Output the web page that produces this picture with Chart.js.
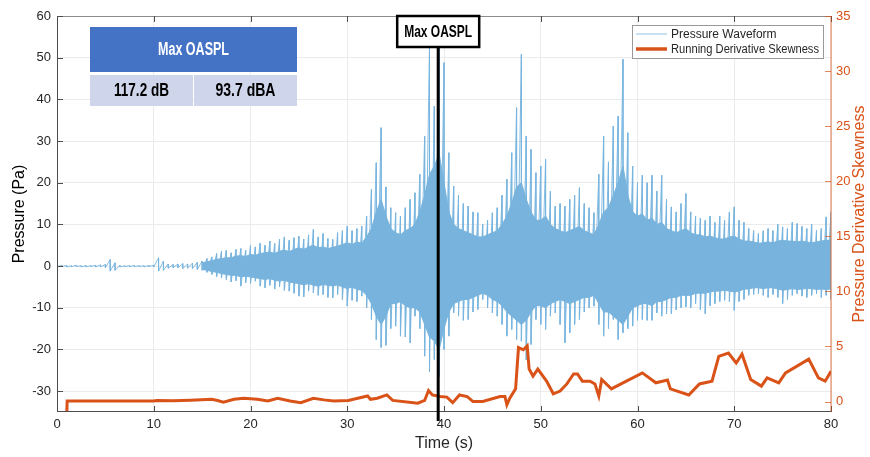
<!DOCTYPE html>
<html>
<head>
<meta charset="utf-8">
<script src="https://cdn.jsdelivr.net/npm/chart.js@4.4.1/dist/chart.umd.min.js"></script>
<style>
  body { margin: 0; background: #fff; }
</style>
</head>
<body>
<canvas id="c" width="870" height="457"></canvas>
<script>
// tick labels
const timeTicks = [0, 10, 20, 30, 40, 50, 60, 70, 80];
const pressureTicks = [-30, -20, -10, 0, 10, 20, 30, 40, 50, 60];
const skewTicks = [0, 5, 10, 15, 20, 25, 30, 35];

// pressure waveform, peak extents read every 0.5 s from 0 s to 80 s
const sampleStart = 0;
const sampleStep = 0.5;
const pHigh = [
  0.15, 0.2, 0.15, 0.1, 0.2, 0.1, 0.15, 0.1, 0.2, 0.3,
  0.4, 1.6, 0.8, 0.2, 0.1, 0.1, 0.15, 0.1, 0.1, 0.15,
  0.2, 2.0, 1.2, 0.5, 0.4, 0.5, 0.6, 0.5, 0.7, 0.9,
  1.2, 1.8, 2.2, 3.0, 3.6, 3.8, 3.2, 4.0, 4.2, 3.8,
  5.0, 4.6, 5.5, 5.0, 6.0, 5.4, 6.5, 7.0, 6.2, 6.8,
  7.2, 6.5, 7.5, 8.8, 7.0, 7.8, 6.6, 6.4, 8.0, 8.5,
  9.6, 8.5, 9.0, 9.6, 12, 18.4, 24.8, 33.2, 19, 14,
  12.8, 12, 14, 16, 17.6, 22, 31.2, 52.8, 38.4, 54,
  48.8, 27.2, 19.2, 17, 15, 14.4, 13, 12.8, 10, 11,
  12.8, 14, 17, 20.8, 27.2, 38, 50.8, 31.2, 28, 22.4,
  24, 25.6, 18, 14.4, 15, 14.4, 16, 17, 18.8, 15,
  14, 12.8, 22, 31.2, 25, 33.6, 36, 49.6, 32, 24,
  20, 21.8, 20, 21.8, 18, 21.8, 16, 14.2, 13, 15,
  17.4, 13, 12, 11.5, 11, 12, 10.5, 12, 11, 13,
  14.2, 11, 10.5, 9, 8.5, 7.8, 8.5, 9, 8.5, 10,
  9.4, 9, 10.5, 10.2, 9.5, 9, 10, 8.6, 9, 11.8,
  13
];
const pLow = [
  -0.15, -0.1, -0.2, -0.15, -0.1, -0.2, -0.15, -0.1, -0.2, -0.2,
  -0.4, -1.2, -1.0, -0.2, -0.1, -0.15, -0.1, -0.1, -0.15, -0.1,
  -0.2, -1.2, -1.0, -0.5, -0.4, -0.4, -0.6, -0.5, -0.6, -0.8,
  -1.0, -1.5, -2.0, -2.5, -2.8, -3.2, -3.8, -3.5, -4.8, -4.0,
  -4.2, -3.6, -4.8, -5.2, -4.6, -5.5, -5.0, -5.8, -6.0, -6.5,
  -7.2, -7.4, -6.0, -6.4, -7.0, -6.8, -7.5, -7.6, -6.8, -8.0,
  -9.6, -8.2, -8.5, -7.2, -10, -12.8, -17.6, -19.5, -19, -15,
  -14.4, -16.8, -17, -18.4, -12, -15, -21.6, -25.4, -22.4, -26.6,
  -20, -16.8, -11.2, -12, -13, -12.8, -11, -10.4, -8, -10,
  -11.2, -12, -14, -16.8, -15.2, -17.6, -18, -22.5, -18.8, -12.8,
  -14, -15.2, -12, -11.2, -14, -18.4, -16, -14, -12.8, -11,
  -10, -9.6, -14, -16.8, -15, -12.8, -17.6, -16, -15, -14.4,
  -13, -12.8, -13, -13, -11.2, -12, -11.4, -11.4, -10.5, -10,
  -9.8, -10, -9, -10.5, -11.4, -9.5, -9, -8.5, -8.2, -8.5,
  -10.6, -8.5, -8, -7, -6.8, -6.6, -7, -7.5, -6.8, -7.5,
  -9, -8, -7, -6.6, -7.2, -7.5, -7, -6.6, -7.5, -7,
  -8
];

// dense core of the waveform, read every 0.5 s from 15 s to 80 s
const coreStart = 15;
const coreStep = 0.5;
const coreHigh = [
  0.8, 1.0, 1.3, 1.6, 1.8, 2.0, 2.0, 2.4, 2.5, 2.3,
  2.8, 2.6, 3.0, 3.2, 3.4, 3.0, 3.6, 3.8, 3.5, 4.0,
  4.4, 4.0, 4.6, 5.0, 4.4, 4.6, 4.2, 4.5, 4.8, 5.2,
  5.6, 5.2, 5.8, 5.5, 7, 9, 13, 16, 12, 9,
  8, 7.5, 8.5, 9, 10, 13, 17, 22, 24, 27,
  20, 13, 10, 9, 8.5, 8, 7.5, 7, 7, 7.5,
  8, 8.5, 10, 12, 15, 19, 20, 16, 13, 11,
  11, 12, 10, 9, 8.5, 8, 8.5, 9, 9.5, 8.5,
  8, 7.5, 10, 13, 14, 17, 20, 24, 17, 13,
  12, 12.5, 11, 11.5, 10, 10.5, 9, 8.5, 8, 8.5,
  9, 8, 7.5, 7.5, 7, 7.2, 6.8, 6.5, 6.5, 7,
  7.2, 6.5, 6, 6, 5.8, 5.5, 5.6, 5.8, 5.6, 6,
  6.2, 6, 6, 5.8, 6, 5.8, 5.6, 5.8, 6, 6.2,
  6.2
];
const coreLow = [
  -0.8, -1.0, -1.3, -1.5, -1.8, -2.0, -2.2, -2.2, -2.6, -2.4,
  -2.6, -2.8, -3.0, -3.2, -3.0, -3.4, -3.6, -3.4, -3.8, -4.0,
  -4.2, -4.5, -4.2, -4.6, -4.8, -4.4, -4.6, -4.8, -4.5, -5.0,
  -5.4, -5.0, -5.6, -5.8, -7, -9, -12, -14, -12, -9,
  -9, -8.5, -9.5, -10, -10, -11, -14, -17, -18, -20,
  -15, -11, -9, -8.5, -8, -8, -7.5, -7, -6.5, -7,
  -8, -8.5, -9.5, -11, -12, -13, -14, -13, -11, -9.5,
  -9.5, -10, -9, -8.5, -8, -8.5, -9, -8.5, -8, -7.5,
  -7.5, -7, -9, -11, -11, -12, -13, -14, -12, -10,
  -9.5, -9, -9, -9.5, -8.5, -8.5, -8, -7.5, -7.5, -7,
  -7, -7, -6.5, -6.5, -6.5, -6.2, -6, -6, -5.8, -6,
  -6.2, -6, -5.5, -5.5, -5.2, -5.2, -5.4, -5.2, -5.2, -5.5,
  -5.8, -5.6, -5.4, -5.6, -5.5, -5.4, -5.4, -5.6, -5.5, -5.6,
  -5.5
];

// running derivative skewness (right axis)
const skTime = [1.0, 1.05, 5, 10, 10.3, 12, 13.8, 16, 16.6, 17.2, 18.3, 19.3, 20.7, 21.8, 22.8, 24.1, 25.2, 26.5, 27.6, 28.6,
  30.1, 32.1, 32.4, 33.1, 34.1, 34.7, 37.3, 38.0, 38.4, 38.8, 39.6, 40.3, 40.9, 41.6, 42.4, 43.0, 44.0, 45.8, 46.3, 46.5,
  46.8, 47.4, 47.7, 48.2, 48.6, 48.8, 49.2, 49.7, 50.6, 51.3, 52.0, 52.7, 53.4, 53.8, 54.3, 55.1, 55.6, 56.0, 56.3, 57.3,
  58.5, 60.5, 61.9, 63.1, 63.4, 65.3, 66.4, 67.7, 68.4, 69.4, 70.2, 70.8, 71.7, 72.8, 73.4, 74.6, 75.3, 77.7, 78.7, 79.4, 80];
const skValue = [-1.5, 0.05, 0.05, 0.05, 0.1, 0.08, 0.12, 0.2, 0.1, -0.05, 0.2, 0.3, 0.2, 0.05, 0.3, 0.05, -0.1, 0.3, 0.15, 0.05,
  0.1, 0.5, 0.2, 0.3, 0.6, 0.1, -0.15, 0.1, 1.0, 0.6, 0.45, 0.4, -0.1, 0.6, 0.45, 0.0, 0.0, 0.45, 0.45, -0.3,
  0.3, 1.15, 4.9, 4.7, 5.05, 2.95, 2.3, 2.95, 1.85, 0.7, 0.95, 1.6, 2.5, 2.5, 1.85, 1.85, 1.6, 0.5, 2.0, 1.15,
  1.7, 2.6, 1.7, 1.95, 1.15, 0.6, 1.6, 1.85, 4.1, 4.4, 3.5, 4.3, 2.0, 1.4, 2.15, 1.7, 2.6, 3.85, 2.15, 1.85, 2.75];

// annotations
const maxOasplTime = 39.4;
const markerLabel = 'Max OASPL';
const tableTitle = 'Max OASPL';
const tableValues = ['117.2 dB', '93.7 dBA'];
const rightTitle = 'Pressure Derivative Skewness';

const FONT = '"Liberation Sans", Arial, Helvetica, sans-serif';
const NARROW = '"Liberation Sans Narrow", "Liberation Sans", Arial, sans-serif';
const ORANGE = '#d95319';
const CORE = '#77b3dc';

// waveform: each sample drawn as its high then low excursion
const waveData = [];
pHigh.forEach((h, i) => {
  const t = sampleStart + i * sampleStep;
  waveData.push({ x: t, y: h });
  waveData.push({ x: t, y: pLow[i] });
});
const coreTop = coreHigh.map((v, i) => ({ x: coreStart + i * coreStep, y: v }));
const coreBottom = coreLow.map((v, i) => ({ x: coreStart + i * coreStep, y: v }));
const skewData = skTime.map((t, i) => ({ x: t, y: skValue[i] }));

function fitText(ctx, text, cx, cy, maxW) {
  const w = ctx.measureText(text).width;
  const s = Math.min(1, maxW / w);
  ctx.save();
  ctx.translate(cx, cy);
  ctx.scale(s, 1);
  ctx.fillText(text, 0, 0);
  ctx.restore();
}

const overlay = {
  id: 'overlay',
  afterDatasetsDraw(chart) {
    const { ctx, chartArea: a, scales } = chart;
    ctx.save();
    ctx.lineWidth = 1;
    ctx.strokeStyle = '#8c8c8c';
    ctx.beginPath();
    ctx.moveTo(a.left, a.top + 0.5); ctx.lineTo(a.right, a.top + 0.5);
    ctx.stroke();
    ctx.strokeStyle = '#4d4d4d';
    ctx.beginPath();
    ctx.moveTo(a.left + 0.5, a.top); ctx.lineTo(a.left + 0.5, a.bottom);
    ctx.moveTo(a.left, a.bottom - 0.5); ctx.lineTo(a.right, a.bottom - 0.5);
    timeTicks.forEach(t => {
      const px = Math.round(scales.x.getPixelForValue(t)) + 0.5;
      ctx.moveTo(px, a.bottom); ctx.lineTo(px, a.bottom - 6);
      ctx.moveTo(px, a.top); ctx.lineTo(px, a.top + 6);
    });
    pressureTicks.forEach(v => {
      const py = Math.round(scales.y.getPixelForValue(v)) + 0.5;
      ctx.moveTo(a.left, py); ctx.lineTo(a.left + 6, py);
    });
    ctx.stroke();
    // right axis
    ctx.strokeStyle = 'rgba(217,83,25,0.4)';
    ctx.lineWidth = 2;
    ctx.beginPath();
    ctx.moveTo(a.right, a.top); ctx.lineTo(a.right, a.bottom);
    ctx.stroke();
    ctx.strokeStyle = 'rgba(217,83,25,0.7)';
    ctx.lineWidth = 1;
    ctx.beginPath();
    skewTicks.forEach(v => {
      const py = Math.round(scales.y2.getPixelForValue(v)) + 0.5;
      ctx.moveTo(a.right, py); ctx.lineTo(a.right - 6, py);
    });
    ctx.stroke();
    ctx.restore();
  },
  afterDraw(chart) {
    const { ctx, chartArea: a, scales } = chart;
    ctx.save();
    ctx.textAlign = 'center';
    ctx.textBaseline = 'middle';

    // right axis title, reading upwards
    ctx.save();
    ctx.translate(860, (a.top + a.bottom) / 2);
    ctx.rotate(-Math.PI / 2);
    ctx.fillStyle = ORANGE;
    ctx.font = '16px ' + FONT;
    ctx.fillText(rightTitle, 0, 0);
    ctx.restore();

    // max OASPL marker
    const mx = scales.x.getPixelForValue(maxOasplTime);
    ctx.strokeStyle = '#000';
    ctx.lineWidth = 3;
    ctx.beginPath();
    ctx.moveTo(mx, 47); ctx.lineTo(mx, 421);
    ctx.stroke();
    ctx.fillStyle = '#fff';
    ctx.fillRect(mx - 41, 16, 82, 31);
    ctx.lineWidth = 2.5;
    ctx.strokeRect(mx - 41, 16, 82, 31);
    ctx.fillStyle = '#000';
    ctx.font = 'bold 17px ' + NARROW;
    fitText(ctx, markerLabel, mx, 32, 68);

    // legend
    const lx = 632.5, ly = 25.5, lw = 191, lh = 33;
    ctx.fillStyle = '#fff';
    ctx.fillRect(lx, ly, lw, lh);
    ctx.strokeStyle = '#999';
    ctx.lineWidth = 1;
    ctx.strokeRect(lx, ly, lw, lh);
    ctx.font = '12px ' + FONT;
    let row = 0;
    chart.data.datasets.forEach(ds => {
      if (!ds.legendColor) return;
      const yy = 34 + row * 15;
      ctx.strokeStyle = ds.legendColor;
      ctx.lineWidth = ds.legendWidth;
      ctx.beginPath();
      ctx.moveTo(636, yy); ctx.lineTo(667, yy);
      ctx.stroke();
      ctx.fillStyle = '#262626';
      ctx.textAlign = 'left';
      ctx.save();
      ctx.translate(671, yy + 0.5);
      const w = ctx.measureText(ds.label).width;
      ctx.scale(Math.min(1, 148 / w), 1);
      ctx.fillText(ds.label, 0, 0);
      ctx.restore();
      row++;
    });

    // OASPL table
    ctx.textAlign = 'center';
    ctx.fillStyle = '#4472c4';
    ctx.fillRect(90, 27, 207, 45);
    ctx.fillStyle = '#cfd5ea';
    ctx.fillRect(90, 75, 103, 31);
    ctx.fillRect(194, 75, 103, 31);
    ctx.fillStyle = '#fff';
    ctx.font = 'bold 18px ' + NARROW;
    fitText(ctx, tableTitle, 193.5, 50, 71);
    ctx.fillStyle = '#000';
    ctx.font = 'bold 19px ' + NARROW;
    fitText(ctx, tableValues[0], 141.5, 91, 55);
    fitText(ctx, tableValues[1], 245.5, 91, 60);
    ctx.restore();
  }
};

const setTicks = list => scale => { scale.ticks = list.map(v => ({ value: v })); };

new Chart(document.getElementById('c'), {
  type: 'line',
  data: {
    datasets: [
      {
        label: 'Pressure Waveform',
        data: waveData,
        yAxisID: 'y',
        borderColor: 'rgba(120,181,223,0.9)',
        legendColor: '#8fc3e8',
        legendWidth: 1,
        borderWidth: 1,
        pointRadius: 0,
        tension: 0,
        order: 3
      },
      {
        label: 'core top',
        data: coreTop,
        yAxisID: 'y',
        borderColor: CORE,
        borderWidth: 1,
        backgroundColor: CORE,
        fill: '+1',
        pointRadius: 0,
        tension: 0,
        order: 2
      },
      {
        label: 'core bottom',
        data: coreBottom,
        yAxisID: 'y',
        borderColor: CORE,
        borderWidth: 1,
        pointRadius: 0,
        tension: 0,
        order: 1
      },
      {
        label: 'Running Derivative Skewness',
        data: skewData,
        yAxisID: 'y2',
        borderColor: ORANGE,
        legendColor: ORANGE,
        legendWidth: 3.5,
        borderWidth: 3,
        pointRadius: 0,
        tension: 0,
        order: 0
      }
    ]
  },
  options: {
    responsive: false,
    animation: false,
    events: [],
    layout: { padding: { top: 16, left: 0, right: 0, bottom: 0 } },
    plugins: { legend: { display: false }, tooltip: { enabled: false }, filler: { propagate: false } },
    scales: {
      x: {
        type: 'linear', min: 0, max: 80, offset: false,
        afterBuildTicks: setTicks(timeTicks),
        ticks: { color: '#262626', font: { size: 13, family: FONT }, padding: 5, maxRotation: 0 },
        grid: { color: '#ebebeb', drawTicks: false, offset: false },
        border: { display: false },
        title: { display: true, text: 'Time (s)', color: '#262626', font: { size: 16, family: FONT }, padding: { top: 0, bottom: 4 } },
        afterFit: s => { s.height = 45; }
      },
      y: {
        type: 'linear', position: 'left', min: -35, max: 60,
        afterBuildTicks: setTicks(pressureTicks),
        ticks: { color: '#262626', font: { size: 13, family: FONT }, padding: 6 },
        grid: { color: '#ebebeb', drawTicks: false },
        border: { display: false },
        title: { display: true, text: 'Pressure (Pa)', color: '#000', font: { size: 16, family: FONT }, padding: { top: 10, bottom: 0 } },
        afterFit: s => { s.width = 57; }
      },
      y2: {
        type: 'linear', position: 'right', min: -0.95, max: 35,
        afterBuildTicks: setTicks(skewTicks),
        ticks: { color: ORANGE, font: { size: 13, family: FONT }, padding: 5 },
        grid: { display: false, drawTicks: false },
        border: { display: false },
        afterFit: s => { s.width = 39; }
      }
    }
  },
  plugins: [overlay]
});
</script>
</body>
</html>
